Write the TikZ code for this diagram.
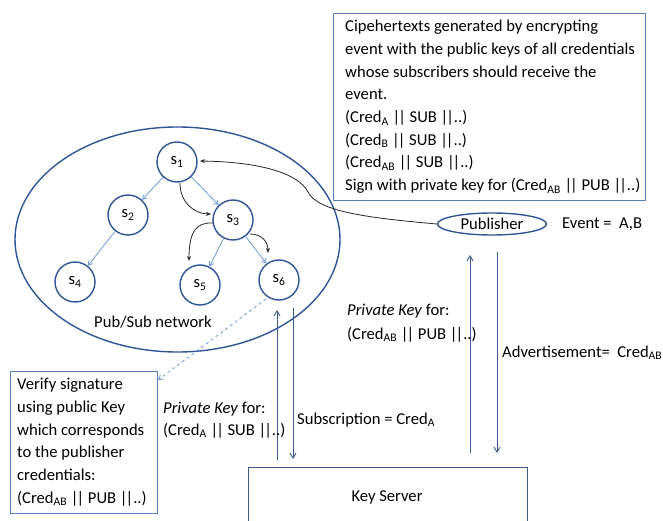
\documentclass[tikz,border=0pt]{standalone}
\usepackage{fontspec}
\setmainfont{Carlito}
\usetikzlibrary{arrows.meta,shapes.geometric}
\definecolor{darkb}{HTML}{2F5597}
\definecolor{boxb}{HTML}{5B80C0}
\definecolor{lightb}{HTML}{6D98D6}
\definecolor{arrb}{HTML}{3B5A8F}
\newcommand\dbar{|\kern-2pt|}
\begin{document}
\begin{tikzpicture}[x=1pt,y=-1pt,
  every node/.style={font=\fontsize{16.6}{22.7}\selectfont, inner sep=0pt},
  snode/.style={circle, draw=darkb, line width=1.4pt, minimum size=40pt},
  infobox/.style={draw=boxb, line width=1pt},
  bluearr/.style={draw=lightb, line width=0.8pt, -{Straight Barb[length=4pt,width=5pt]}},
  blackarr/.style={draw=black!85, line width=0.8pt, -{Stealth[length=5pt,width=4pt]}},
  vertarr/.style={draw=arrb, line width=0.9pt, -{Straight Barb[length=5pt,width=6pt]}},
  lbl/.style={anchor=base west}
]
\useasboundingbox (0,0) rectangle (663,521);

% top cipher box
\node[infobox, anchor=north west, minimum width=312pt, minimum height=187pt] (cbox) at (333,13) {};
\node[anchor=north west, align=left] (ctext) at (345,20) {Cipehertexts generated by encrypting\\
event with the public keys of all credentials\\
whose subscribers should receive the\\
event.\\
(Cred\textsubscript{A} \dbar{} SUB \dbar..)\\
(Cred\textsubscript{B} \dbar{} SUB \dbar..)\\
(Cred\textsubscript{AB} \dbar{} SUB \dbar..)\\
Sign with private key for (Cred\textsubscript{AB} \dbar{} PUB \dbar..)};

% pub/sub network ellipse
\node[ellipse, draw=darkb, line width=1.4pt, minimum width=325pt, minimum height=225pt] (net) at (177.5,239.5) {};
\node (netlbl) at (153,322) {Pub/Sub network};

% nodes
\node[snode] (s1) at (177,162) {s\textsubscript{1}};
\node[snode] (s2) at (128,215) {s\textsubscript{2}};
\node[snode] (s3) at (233,220) {s\textsubscript{3}};
\node[snode] (s4) at (75,282) {s\textsubscript{4}};
\node[snode] (s5) at (200,285) {s\textsubscript{5}};
\node[snode] (s6) at (279,280) {s\textsubscript{6}};

\draw[bluearr] (s1) -- (s2);
\draw[bluearr] (s1) -- (s3);
\draw[bluearr] (s2) -- (s4);
\draw[bluearr] (s3) -- (s5);
\draw[bluearr] (s3) -- (s6);

\coordinate (c13a) at (180,183);
\coordinate (c13b) at (211,214);
\draw[blackarr] (c13a) .. controls (180,203) and (195,214) .. (c13b);
\coordinate (c35a) at (213,223);
\coordinate (c35b) at (189,261);
\draw[blackarr] (c35a) .. controls (196,222) and (189,232) .. (c35b);
\coordinate (c36a) at (250,234);
\coordinate (c36b) at (268,253);
\draw[blackarr] (c36a) .. controls (262,234) and (268,242) .. (c36b);

% publisher
\node[ellipse, draw=darkb, line width=1.4pt, minimum width=109pt, minimum height=22pt] (pub) at (492,224) {};
\node (publbl) at (492,224) {Publisher};
\node[lbl] (event) at (562,229) {Event =\ \ A,B};

\coordinate (pubin) at (200,161);
\draw[blackarr] (pub.west) .. controls (370,218) and (318,212) .. (308,192)
  .. controls (299,174) and (262,162) .. (pubin);

% key server
\node[draw=arrb, line width=1.4pt, anchor=north west, minimum width=279pt, minimum height=80pt] (ks) at (248,467) {};
\node (kslbl) at (387,497) {Key Server};

% verify box
\node[infobox, anchor=north west, minimum width=147pt, minimum height=142pt] (vbox) at (10,371) {};
\node[anchor=north west, align=left] (vtext) at (17,378) {Verify signature\\
using public Key\\
which corresponds\\
to the publisher\\
credentials:\\
(Cred\textsubscript{AB} \dbar{} PUB \dbar..)};

\coordinate (dstart) at (266,299);
\coordinate (dend) at (158,380);
\draw[draw=lightb, line width=0.8pt, dashed, -{Straight Barb[length=4pt,width=5pt]}] (dstart) -- (dend);

% vertical arrows
\coordinate (a1b) at (277,460); \coordinate (a1t) at (277,310);
\draw[vertarr] (a1b) -- (a1t);
\coordinate (a2t) at (293,308); \coordinate (a2b) at (293,459);
\draw[vertarr] (a2t) -- (a2b);
\coordinate (a3b) at (470,453); \coordinate (a3t) at (470,255);
\draw[vertarr] (a3b) -- (a3t);
\coordinate (a4t) at (497,252); \coordinate (a4b) at (497,453);
\draw[vertarr] (a4t) -- (a4b);

% labels
\node[lbl] (pk1a) at (163,413) {\textit{Private Key} for:};
\node[lbl] (pk1b) at (163,435) {(Cred\textsubscript{A} \dbar{} SUB \dbar..)};
\node[lbl] (sub) at (297,424) {Subscription = Cred\textsubscript{A}};
\node[lbl] (pk2a) at (347,315) {\textit{Private Key} for:};
\node[lbl] (pk2b) at (347,339) {(Cred\textsubscript{AB} \dbar{} PUB \dbar..)};
\node[lbl] (adv) at (502,357) {Advertisement=\ \ Cred\textsubscript{AB}};
\end{tikzpicture}
\end{document}
